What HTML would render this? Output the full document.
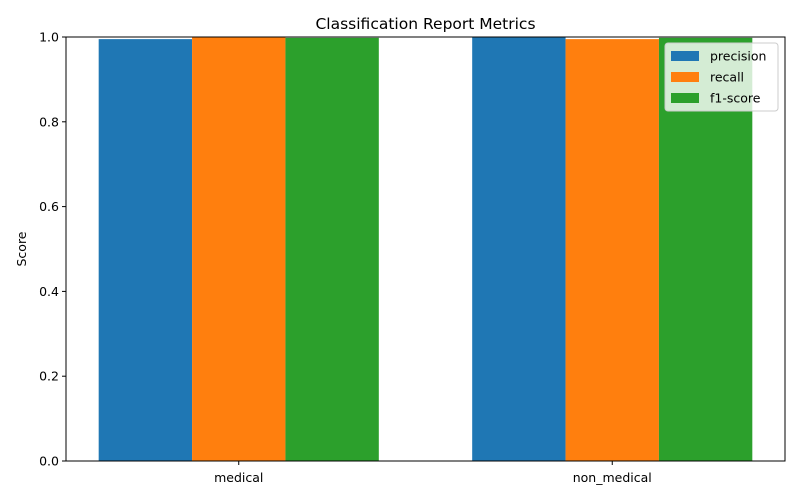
<!DOCTYPE html>
<html><head><meta charset="utf-8"><style>body{margin:0;background:#fff}svg{display:block;font-family:"DejaVu Sans","Liberation Sans",sans-serif}</style></head>
<body>
<svg id="chart" width="800" height="500"></svg>
<script>
const categories = ["medical", "non_medical"];
const seriesNames = ["precision", "recall", "f1-score"];
const precision = [0.995, 1.0];
const recall = [1.0, 0.995];
const f1score = [0.998, 0.998];
const yTicks = [0.0, 0.2, 0.4, 0.6, 0.8, 1.0];
const colors = ["#1f77b4", "#ff7f0e", "#2ca02c"];
const series = [precision, recall, f1score];

const NS = "http://www.w3.org/2000/svg";
const svg = document.getElementById("chart");
const L = 66, R = 785, T = 37, B = 461;
const xmin = -0.4625, xmax = 1.4625;
const xs = v => L + (v - xmin) / (xmax - xmin) * (R - L);
const ys = v => B - v * (B - T);
function mk(tag, attrs, parent) { const e = document.createElementNS(NS, tag); for (const k in attrs) e.setAttribute(k, attrs[k]); (parent || svg).appendChild(e); return e; }

const bw = 0.25;
series.forEach((vals, si) => {
  vals.forEach((v, ci) => {
    const x0 = xs(ci + (si - 1) * bw - bw / 2), x1 = xs(ci + (si - 1) * bw + bw / 2);
    const r = mk("rect", { x: x0, y: ys(v), width: x1 - x0, height: ys(0) - ys(v), fill: colors[si] });
    
    
  });
});

const frame = mk("rect", { x: L, y: T, width: R - L, height: B - T, fill: "none", stroke: "#000", "stroke-width": 1 });



yTicks.forEach(t => {
  const y = ys(t);
  mk("line", { x1: L - 4, x2: L, y1: y, y2: y, stroke: "#000" });
  const tx = mk("text", { x: L - 7, y: y + 4.5, "text-anchor": "end", "font-size": 12.5, fill: "#000" });
  tx.textContent = t.toFixed(1);
  
  
});
categories.forEach((c, i) => {
  const x = xs(i);
  mk("line", { x1: x, x2: x, y1: B, y2: B + 4, stroke: "#000" });
  const tx = mk("text", { x: x, y: B + 21, "text-anchor": "middle", "font-size": 12.5, fill: "#000" });
  tx.textContent = c;
  
  
});

const yt = mk("text", { x: 26, y: (T + B) / 2, "text-anchor": "middle", "font-size": 12.5, transform: `rotate(-90 26 ${(T + B) / 2})` });
yt.textContent = "Score";



const title = mk("text", { x: (L + R) / 2, y: 29, "text-anchor": "middle", "font-size": 15.5 });
title.textContent = "Classification Report Metrics";



const lg = mk("g", {});


mk("rect", { x: 665, y: 43, width: 113, height: 68, rx: 3, fill: "rgba(255,255,255,0.8)", stroke: "#ccc" }, lg);
seriesNames.forEach((n, i) => {
  const y = 56 + i * 21;
  const sw = mk("rect", { x: 671, y: y - 5, width: 28, height: 10, fill: colors[i] }, lg);
  
  
  const tx = mk("text", { x: 710, y: y + 4.5, "font-size": 12.5 }, lg);
  tx.textContent = n;
  
  
});
</script>
</body></html>
